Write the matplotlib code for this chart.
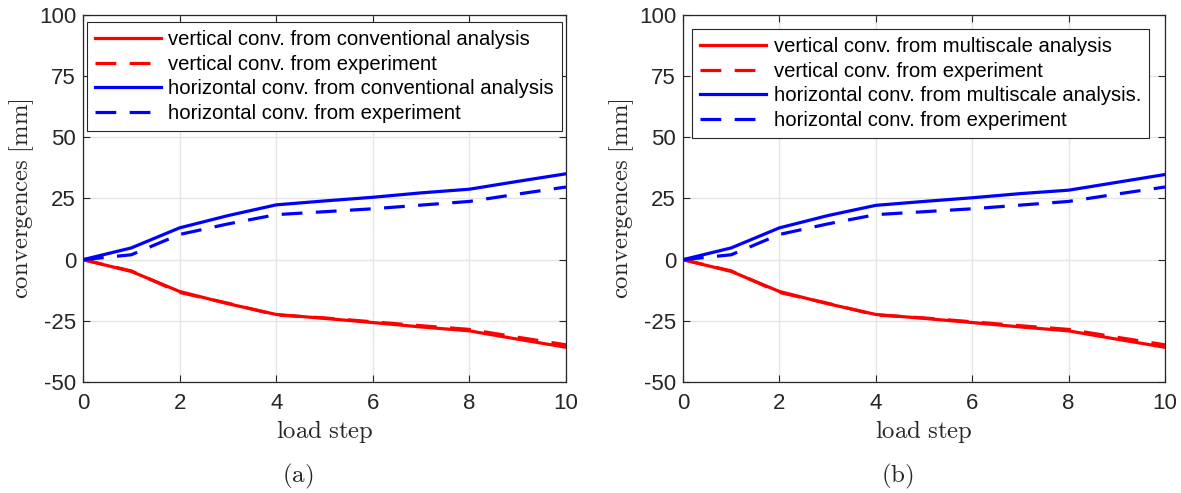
import matplotlib
matplotlib.use("Agg")
import matplotlib.pyplot as plt
from matplotlib.ticker import FixedLocator

plt.rcParams['mathtext.fontset'] = 'cm'
plt.rcParams['font.family'] = ['Liberation Sans', 'DejaVu Sans']

load_step = [0, 1, 2, 3, 4, 5, 6, 7, 8, 9, 10]

# panel (a): conventional analysis
vert_conv_a = [0, -4.8, -13.0, -18.0, -22.4, -24.0, -25.7, -27.5, -29.1, -32.5, -35.8]
vert_exp_a = [0, -4.6, -13.4, -17.8, -22.6, -23.8, -25.4, -27.0, -28.5, -31.7, -34.8]
horz_conv_a = [0, 4.8, 13.0, 18.0, 22.4, 24.0, 25.5, 27.3, 28.8, 32.0, 35.1]
horz_exp_a = [0, 2.0, 10.3, 14.6, 18.4, 19.6, 20.8, 22.3, 23.8, 26.8, 29.7]

# panel (b): multiscale analysis
vert_conv_b = [0, -4.8, -13.0, -18.0, -22.4, -24.0, -25.7, -27.5, -29.1, -32.5, -35.8]
vert_exp_b = [0, -4.6, -13.4, -17.8, -22.6, -23.8, -25.4, -27.0, -28.5, -31.7, -34.8]
horz_conv_b = [0, 4.8, 13.0, 18.0, 22.2, 23.8, 25.3, 27.0, 28.4, 31.6, 34.8]
horz_exp_b = [0, 2.0, 10.3, 14.6, 18.4, 19.6, 20.8, 22.3, 23.8, 26.8, 29.7]

labels_a = ["vertical conv. from conventional analysis",
            "vertical conv. from experiment",
            "horizontal conv. from conventional analysis",
            "horizontal conv. from experiment"]
labels_b = ["vertical conv. from multiscale analysis",
            "vertical conv. from experiment",
            "horizontal conv. from multiscale analysis.",
            "horizontal conv. from experiment"]

xticks = [0, 2, 4, 6, 8, 10]
yticks = [-50, -25, 0, 25, 50, 75, 100]

W, H = 1181, 493
fig = plt.figure(figsize=(W / 100, H / 100), dpi=100)

panels = [
    ((83, 566), (vert_conv_a, vert_exp_a, horz_conv_a, horz_exp_a), labels_a, "(a)", 298,
     (0.0077, 0.981)),
    ((683, 1165), (vert_conv_b, vert_exp_b, horz_conv_b, horz_exp_b), labels_b, "(b)", 897,
     (0.0187, 0.962)),
]
top, bottom = 15, 382
lw = 2.3
dash = (0, (6.5, 4.2))
for (x0, x1), series, labels, tag, tagx, legpos in panels:
    ax = fig.add_axes([x0 / W, 1 - bottom / H, (x1 - x0) / W, (bottom - top) / H])
    vc, ve, hc, he = series
    ax.plot(load_step, vc, color='#ff0000', lw=lw, ls='-', label=labels[0])
    ax.plot(load_step, ve, color='#ff0000', lw=lw, ls=dash, label=labels[1])
    ax.plot(load_step, hc, color='#0000ff', lw=lw, ls='-', label=labels[2])
    ax.plot(load_step, he, color='#0000ff', lw=lw, ls=dash, label=labels[3])
    ax.set_xlim(0, 10)
    ax.set_ylim(-50, 100)
    ax.xaxis.set_major_locator(FixedLocator(xticks))
    ax.yaxis.set_major_locator(FixedLocator(yticks))
    ax.set_yticklabels([str(t) for t in yticks])
    ax.grid(True, color='#e5e5e5', lw=1.0)
    ax.set_axisbelow(True)
    ax.tick_params(direction='in', top=True, right=True, length=5, width=0.8,
                   color='#262626', labelsize=16, labelcolor='#262626')
    ax.tick_params(axis='x', pad=8)
    ax.tick_params(axis='y', pad=5)
    for sp in ax.spines.values():
        sp.set_color('#262626')
        sp.set_linewidth(0.9)
    ax.set_xlabel(r'$\mathrm{load\ step}$', fontsize=17.8, color='#262626', labelpad=3)
    ax.set_ylabel(r'$\mathrm{convergences\ [mm]}$', fontsize=17.8, color='#262626', labelpad=2)
    leg = ax.legend(loc='upper left', bbox_to_anchor=legpos, fontsize=14.6,
                    frameon=True, fancybox=False, edgecolor='#262626', framealpha=1,
                    handlelength=3.25, handletextpad=0.37, borderpad=0.4, labelspacing=0.28,
                    borderaxespad=0)
    leg.get_frame().set_linewidth(0.8)
    fig.text(tagx / W, 1 - 476 / H, r'$\mathrm{' + tag + '}$', fontsize=18,
             ha='center', va='center', color='#262626')

fig.savefig('out.png', dpi=100)
